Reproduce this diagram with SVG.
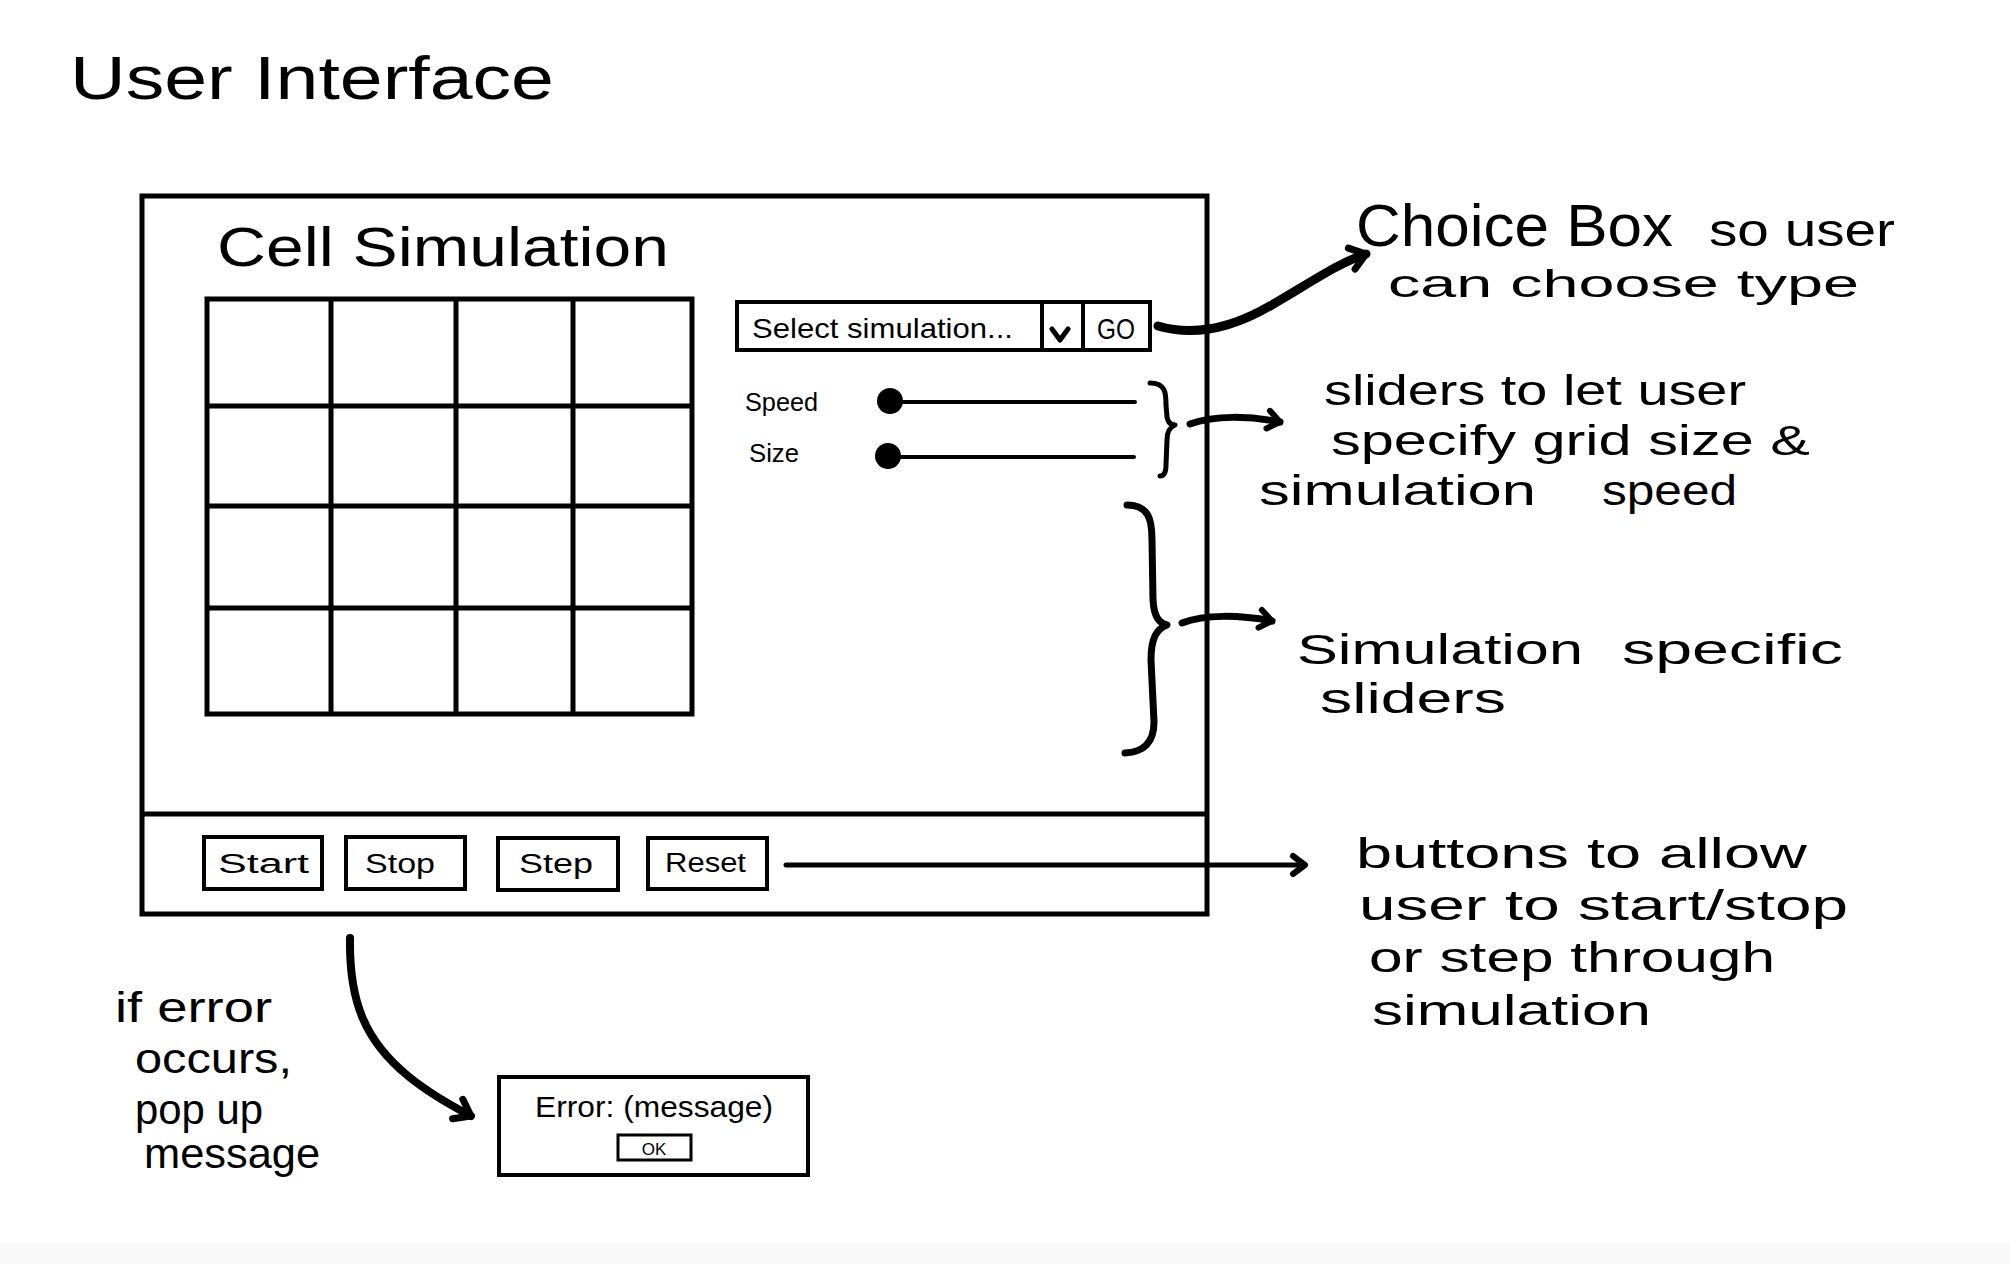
<svg xmlns="http://www.w3.org/2000/svg" width="2010" height="1264" viewBox="0 0 2010 1264">
<style>
text{font-family:"Liberation Sans","Noto Sans",sans-serif;fill:#000}
.box{fill:#fff;stroke:#000;stroke-width:5}
.thin{fill:#fff;stroke:#000;stroke-width:4}
.grid{stroke:#000;stroke-width:5;fill:none}
.pen{fill:none;stroke:#000;stroke-linecap:round;stroke-linejoin:round}
.note{font-size:42px}
.btn{font-size:27px}
</style>
<defs>
<marker id="ah" viewBox="-22 -16 28 32" refX="0" refY="0" markerWidth="28" markerHeight="32" markerUnits="userSpaceOnUse" orient="auto">
<path d="M-15,-11 L0,0 L-15,11" fill="none" stroke="#000" stroke-width="7" stroke-linecap="round" stroke-linejoin="round"/>
</marker>
<marker id="ahs" viewBox="-18 -14 24 28" refX="0" refY="0" markerWidth="24" markerHeight="28" markerUnits="userSpaceOnUse" orient="auto">
<path d="M-12,-9 L0,0 L-12,9" fill="none" stroke="#000" stroke-width="6" stroke-linecap="round" stroke-linejoin="round"/>
</marker>
</defs>
<rect x="0" y="0" width="2010" height="1264" fill="#fff"/>
<rect x="0" y="1243" width="2010" height="21" fill="#f9f9f9"/>

<g id="title"><text x="70" y="99" font-size="62" textLength="484" lengthAdjust="spacingAndGlyphs">User Interface</text></g>

<g id="window">
<rect class="box" x="142" y="196" width="1065" height="718"/>
<line class="grid" x1="142" y1="814" x2="1207" y2="814"/>
<text x="217" y="266" font-size="56" textLength="452" lengthAdjust="spacingAndGlyphs">Cell Simulation</text>
</g>

<g id="grid">
<rect class="grid" x="207" y="299" width="485" height="415"/>
<path class="grid" d="M331,299V714M456,299V714M573,299V714M207,406H692M207,506H692M207,608H692"/>
</g>

<g id="choicebox">
<rect class="thin" x="737" y="302" width="413" height="48"/>
<line x1="1042" y1="302" x2="1042" y2="350" stroke="#000" stroke-width="4"/>
<line x1="1083" y1="302" x2="1083" y2="350" stroke="#000" stroke-width="4"/>
<text x="752" y="338" font-size="28" textLength="261" lengthAdjust="spacingAndGlyphs">Select simulation...</text>
<path d="M1052,329 L1060,340 L1068,329" fill="none" stroke="#000" stroke-width="5" stroke-linecap="round" stroke-linejoin="round"/>
<text x="1097" y="339" font-size="29" textLength="38" lengthAdjust="spacingAndGlyphs">GO</text>
</g>

<g id="speed-slider">
<text x="745" y="411" font-size="26" textLength="73" lengthAdjust="spacingAndGlyphs">Speed</text>
<line x1="890" y1="402" x2="1135" y2="402" stroke="#000" stroke-width="4" stroke-linecap="round"/>
<circle cx="890" cy="401" r="13" fill="#000"/>
</g>
<g id="size-slider">
<text x="749" y="462" font-size="26" textLength="50" lengthAdjust="spacingAndGlyphs">Size</text>
<line x1="888" y1="457" x2="1134" y2="457" stroke="#000" stroke-width="4" stroke-linecap="round"/>
<circle cx="888" cy="456" r="13" fill="#000"/>
</g>

<g id="buttons">
<g id="btn-start"><rect class="thin" x="204" y="837" width="118" height="52"/><text class="btn" x="218" y="873" textLength="91" lengthAdjust="spacingAndGlyphs">Start</text></g>
<g id="btn-stop"><rect class="thin" x="346" y="837" width="119" height="52"/><text class="btn" x="365" y="873" textLength="70" lengthAdjust="spacingAndGlyphs">Stop</text></g>
<g id="btn-step"><rect class="thin" x="498" y="838" width="120" height="52"/><text class="btn" x="519" y="873" textLength="74" lengthAdjust="spacingAndGlyphs">Step</text></g>
<g id="btn-reset"><rect class="thin" x="648" y="838" width="119" height="51"/><text class="btn" x="665" y="872" textLength="81" lengthAdjust="spacingAndGlyphs">Reset</text></g>
</g>

<g id="error-popup">
<rect class="thin" x="499" y="1077" width="309" height="98"/>
<text x="535" y="1117" font-size="30" textLength="238" lengthAdjust="spacingAndGlyphs">Error: (message)</text>
<rect x="618" y="1135" width="73" height="25" fill="#fff" stroke="#000" stroke-width="3"/>
<text x="654" y="1155" font-size="17" text-anchor="middle">OK</text>
</g>

<g id="braces">
<path class="pen" stroke-width="5" d="M1150,383 C1166,383 1166,394 1166,405 L1167,417 C1168,423 1171,425 1175,425 C1170,427 1167,432 1167,440 L1166,465 C1166,472 1164,476 1160,476"/>
<path class="pen" stroke-width="7" d="M1127,505 C1149,505 1152,520 1152,540 L1153,600 C1154,617 1159,623 1167,625 C1157,629 1151,637 1151,660 L1154,722 C1154,745 1141,752 1125,753"/>
</g>

<g id="connectors">
<path class="pen" stroke-width="9" marker-end="url(#ah)" d="M1158,326 C1195,337 1232,328 1270,306 C1310,283 1338,263 1366,254"/>
<path class="pen" stroke-width="7" marker-end="url(#ahs)" d="M1190,424 C1215,415 1250,416 1280,422"/>
<path class="pen" stroke-width="7" marker-end="url(#ahs)" d="M1182,623 C1205,614 1240,615 1272,621"/>
<path class="pen" stroke-width="5" marker-end="url(#ahs)" d="M786,865 L1305,865"/>
<path class="pen" stroke-width="8" marker-end="url(#ah)" d="M350,938 C349,1000 364,1040 408,1076 C430,1094 450,1105 471,1116"/>
</g>

<g id="notes">
<text x="1356" y="246"><tspan font-size="60" textLength="317" lengthAdjust="spacingAndGlyphs">Choice Box</tspan><tspan x="1709" font-size="46" textLength="186" lengthAdjust="spacingAndGlyphs">so user</tspan></text>
<text x="1388" y="297" font-size="38" textLength="471" lengthAdjust="spacingAndGlyphs">can choose type</text>

<text class="note" x="1324" y="405" textLength="422" lengthAdjust="spacingAndGlyphs">sliders to let user</text>
<text class="note" x="1331" y="455" textLength="479" lengthAdjust="spacingAndGlyphs">specify grid size &amp;</text>
<text class="note" y="505"><tspan x="1259" textLength="277" lengthAdjust="spacingAndGlyphs">simulation</tspan> <tspan x="1602" textLength="135" lengthAdjust="spacingAndGlyphs">speed</tspan></text>

<text class="note" y="664"><tspan x="1297" textLength="286" lengthAdjust="spacingAndGlyphs">Simulation</tspan> <tspan x="1622" textLength="221" lengthAdjust="spacingAndGlyphs">specific</tspan></text>
<text class="note" x="1320" y="713" textLength="186" lengthAdjust="spacingAndGlyphs">sliders</text>

<text class="note" x="1356" y="868" textLength="451" lengthAdjust="spacingAndGlyphs">buttons to allow</text>
<text class="note" x="1359" y="920" textLength="489" lengthAdjust="spacingAndGlyphs">user to start/stop</text>
<text class="note" x="1369" y="972" textLength="406" lengthAdjust="spacingAndGlyphs">or step through</text>
<text class="note" x="1372" y="1025" textLength="279" lengthAdjust="spacingAndGlyphs">simulation</text>

<text class="note" x="115" y="1022" textLength="157" lengthAdjust="spacingAndGlyphs">if error</text>
<text class="note" x="135" y="1073" textLength="157" lengthAdjust="spacingAndGlyphs">occurs,</text>
<text class="note" x="135" y="1124" textLength="128" lengthAdjust="spacingAndGlyphs">pop up</text>
<text class="note" x="144" y="1168" textLength="176" lengthAdjust="spacingAndGlyphs">message</text>
</g>
</svg>
